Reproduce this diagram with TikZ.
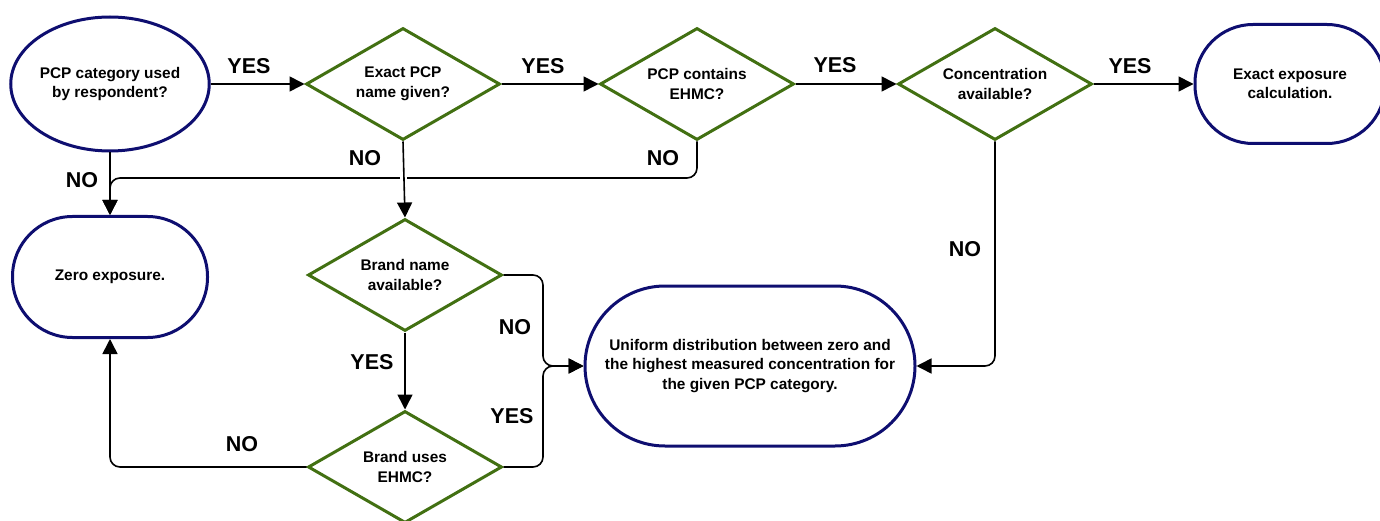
\documentclass[tikz,border=0pt]{standalone}
\usepackage{fontspec}
\setmainfont{Liberation Sans}
\usetikzlibrary{shapes.geometric,arrows.meta}
\definecolor{navy}{RGB}{14,14,112}
\definecolor{dgreen}{RGB}{66,112,18}
\begin{document}
\begin{tikzpicture}[x=1pt,y=-1pt,
  every node/.style={font=\bfseries\fontsize{15.4}{19.5}\selectfont, align=center, inner sep=0pt},
  term/.style={draw=navy, line width=3pt, rectangle, rounded corners=#1},
  oval/.style={draw=navy, line width=3pt, ellipse},
  decision/.style={draw=dgreen, line width=3pt, diamond, aspect=1.73, minimum width=194pt, minimum height=112pt},
  conn/.style={draw=black, line width=1.6pt, rounded corners=10pt, -{Triangle[length=15pt,width=15pt]}},
  lab/.style={font=\bfseries\fontsize{21.5}{25}\selectfont}]
\useasboundingbox (0,0) rectangle (1380,521);

% nodes
\node[oval, minimum width=196pt, minimum height=134pt] (e1) at (110,84) {PCP category used\\by respondent?};
\node[decision] (d2) at (403,84) {Exact PCP\\name given?};
\node[decision] (d3) at (697,84) {PCP contains\\EHMC?};
\node[decision] (d4) at (995,84) {Concentration\\available?};
\node[term=58pt, minimum width=190pt, minimum height=119pt] (t5) at (1290,84) {Exact exposure\\calculation.};
\node[term=60pt, minimum width=195pt, minimum height=121pt] (zero) at (110,277) {Zero exposure.};
\node[decision] (b1) at (405,275) {Brand name\\available?};
\node[decision] (b2) at (405,467) {Brand uses\\EHMC?};
\node[term=80pt, minimum width=330pt, minimum height=160pt] (uni) at (750,366) {Uniform distribution between zero and\\the highest measured concentration for\\the given PCP category.};

\coordinate (j1) at (110,178);
\coordinate (mx) at (543,366);

% connectors
\draw[conn] (e1.east) -- (d2.west);
\draw[conn] (d2.east) -- (d3.west);
\draw[conn] (d3.east) -- (d4.west);
\draw[conn] (d4.east) -- (t5.west);
\draw[conn] (e1.south) -- (zero.north);
\draw[conn] (d3.south) |- (j1) -- (zero.north);
\draw[white, line width=7pt] ([yshift=5pt]d2.south |- j1) -- ([yshift=-5pt]d2.south |- j1);
\draw[conn] (d2.south) -- (b1.north);
\draw[conn] (b1.south) -- (b2.north);
\draw[conn] (b1.east) -| (mx) -- (uni.west);
\draw[conn] (b2.east) -| (mx) -- (uni.west);
\draw[conn] (b2.west) -| (zero.south);
\draw[conn] (d4.south) |- (uni.east);

% labels
\node[lab] (l1) at (249,66) {YES};
\node[lab] (l2) at (543,66) {YES};
\node[lab] (l3) at (835,65) {YES};
\node[lab] (l4) at (1130,66) {YES};
\node[lab] (l5) at (82,180) {NO};
\node[lab] (l6) at (365,158) {NO};
\node[lab] (l7) at (663,158) {NO};
\node[lab] (l8) at (965,249) {NO};
\node[lab] (l9) at (515,327) {NO};
\node[lab] (l10) at (242,444) {NO};
\node[lab] (l11) at (372,362) {YES};
\node[lab] (l12) at (512,416) {YES};
\end{tikzpicture}
\end{document}
